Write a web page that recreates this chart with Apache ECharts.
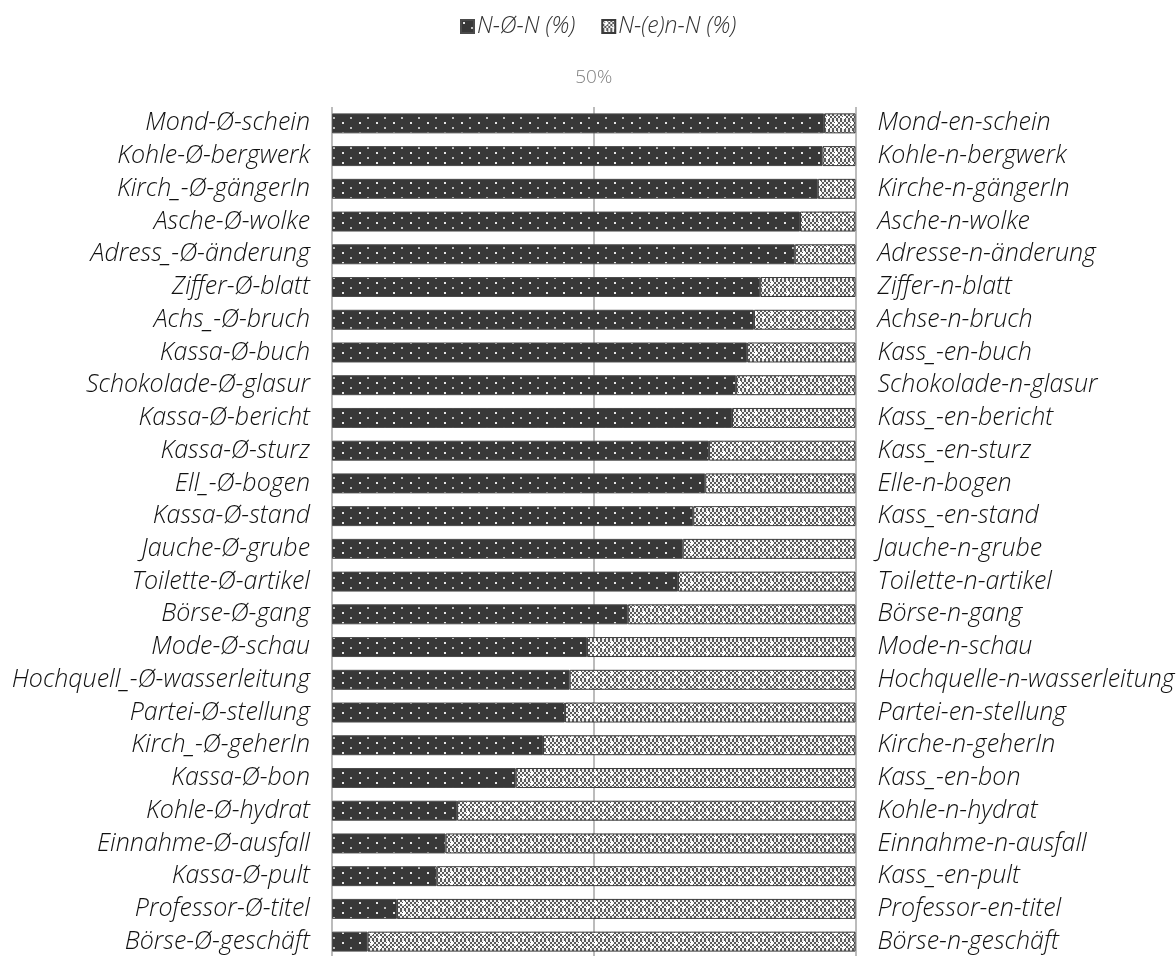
<!DOCTYPE html>
<html>
<head>
<meta charset="utf-8">
<script src="https://cdn.jsdelivr.net/npm/echarts@6/dist/echarts.min.js"></script>
<style>
  html, body { margin: 0; padding: 0; background: #ffffff; }
  #chart { width: 1176px; height: 956px; }
</style>
</head>
<body>
<div id="chart"></div>
<script>
// Compounds with a zero linking element (left) and their -(e)n- variants (right)
const zeroForms = [
  'Mond-Ø-schein', 'Kohle-Ø-bergwerk', 'Kirch_-Ø-gängerIn', 'Asche-Ø-wolke',
  'Adress_-Ø-änderung', 'Ziffer-Ø-blatt', 'Achs_-Ø-bruch', 'Kassa-Ø-buch',
  'Schokolade-Ø-glasur', 'Kassa-Ø-bericht', 'Kassa-Ø-sturz', 'Ell_-Ø-bogen',
  'Kassa-Ø-stand', 'Jauche-Ø-grube', 'Toilette-Ø-artikel', 'Börse-Ø-gang',
  'Mode-Ø-schau', 'Hochquell_-Ø-wasserleitung', 'Partei-Ø-stellung',
  'Kirch_-Ø-geherIn', 'Kassa-Ø-bon', 'Kohle-Ø-hydrat', 'Einnahme-Ø-ausfall',
  'Kassa-Ø-pult', 'Professor-Ø-titel', 'Börse-Ø-geschäft'
];
const enForms = [
  'Mond-en-schein', 'Kohle-n-bergwerk', 'Kirche-n-gängerIn', 'Asche-n-wolke',
  'Adresse-n-änderung', 'Ziffer-n-blatt', 'Achse-n-bruch', 'Kass_-en-buch',
  'Schokolade-n-glasur', 'Kass_-en-bericht', 'Kass_-en-sturz', 'Elle-n-bogen',
  'Kass_-en-stand', 'Jauche-n-grube', 'Toilette-n-artikel', 'Börse-n-gang',
  'Mode-n-schau', 'Hochquelle-n-wasserleitung', 'Partei-en-stellung',
  'Kirche-n-geherIn', 'Kass_-en-bon', 'Kohle-n-hydrat', 'Einnahme-n-ausfall',
  'Kass_-en-pult', 'Professor-en-titel', 'Börse-n-geschäft'
];

// Share of each variant in percent
const zeroShare = [
  94.0, 93.7, 92.8, 89.4, 88.4, 81.8, 80.6, 79.3, 77.2, 76.4, 72.0, 71.3, 69.0,
  67.0, 66.1, 56.5, 48.7, 45.4, 44.5, 40.3, 35.1, 23.9, 21.7, 20.0, 12.4, 6.8
];
const enShare = [
  6.0, 6.3, 7.2, 10.6, 11.6, 18.2, 19.4, 20.7, 22.8, 23.6, 28.0, 28.7, 31.0,
  33.0, 33.9, 43.5, 51.3, 54.6, 55.5, 59.7, 64.9, 76.1, 78.3, 80.0, 87.6, 93.2
];

const seriesNames = ['N-Ø-N (%)', 'N-(e)n-N (%)'];
const axisTicks = [0, 50, 100];

// Dark fill sprinkled with staggered white dots
function dotTile() {
  const c = document.createElement('canvas');
  c.width = 17; c.height = 10;
  const g = c.getContext('2d');
  g.fillStyle = '#383838';
  g.fillRect(0, 0, 17, 10);
  g.fillStyle = '#e6e6e6';
  g.fillRect(2, 2, 2, 2);
  g.fillStyle = '#bdbdbd';
  g.fillRect(10, 7, 2, 2);
  return c;
}

// Fine grey/white checkerboard with small white crosses
function checkTile() {
  const c = document.createElement('canvas');
  c.width = 16; c.height = 10;
  const g = c.getContext('2d');
  for (let y = 0; y < 10; y += 2) {
    for (let x = 0; x < 16; x += 2) {
      g.fillStyle = ((x + y) / 2) % 2 === 0 ? '#5a5a5a' : '#f2f2f2';
      g.fillRect(x, y, 2, 2);
    }
  }
  g.fillStyle = '#ffffff';
  g.fillRect(3, 2, 2, 2); g.fillRect(2, 3, 4, 1); g.fillRect(3, 1, 2, 4);
  g.fillRect(11, 7, 2, 2); g.fillRect(10, 7, 4, 1); g.fillRect(11, 6, 2, 3);
  return c;
}

const dotPattern = { image: dotTile(), repeat: 'repeat' };
const checkPattern = { image: checkTile(), repeat: 'repeat' };

const labelFont = {
  fontFamily: 'Open Sans',
  fontStyle: 'italic',
  fontWeight: 300,
  fontSize: 25,
  color: '#111111'
};

const chart = echarts.init(document.getElementById('chart'), null, { renderer: 'canvas' });

chart.setOption({
  backgroundColor: '#ffffff',
  animation: false,
  legend: {
    top: 10,
    left: 455,
    itemWidth: 13,
    itemHeight: 13,
    itemGap: 26,
    icon: 'rect',
    textStyle: {
      fontFamily: 'Open Sans',
      fontStyle: 'italic',
      fontWeight: 300,
      fontSize: 23,
      color: '#333333',
      padding: [0, 0, 0, -2]
    },
    data: seriesNames
  },
  grid: {
    left: 332,
    right: 320.5,
    top: 107,
    height: 851,
    containLabel: false,
    outerBoundsMode: 'none'
  },
  xAxis: {
    type: 'value',
    position: 'top',
    min: axisTicks[0],
    max: axisTicks[axisTicks.length - 1],
    interval: axisTicks[1] - axisTicks[0],
    axisLine: { show: false },
    axisTick: { show: false },
    splitLine: { show: true, lineStyle: { color: '#a6a6a6', width: 1.5 } },
    axisLabel: {
      margin: 20,
      fontFamily: 'Open Sans',
      fontWeight: 300,
      fontSize: 19,
      color: '#7f7f7f',
      formatter: v => (v === 50 ? v + '%' : '')
    }
  },
  yAxis: [
    {
      type: 'category',
      inverse: true,
      position: 'left',
      data: zeroForms,
      axisLine: { show: false },
      axisTick: { show: false },
      axisLabel: Object.assign({ margin: 22 }, labelFont)
    },
    {
      type: 'category',
      inverse: true,
      position: 'right',
      data: enForms,
      axisLine: { show: false },
      axisTick: { show: false },
      axisLabel: Object.assign({ margin: 22 }, labelFont)
    }
  ],
  series: [
    {
      name: seriesNames[0],
      type: 'bar',
      stack: 'share',
      yAxisIndex: 0,
      barCategoryGap: '39%',
      data: zeroShare,
      itemStyle: { color: dotPattern, borderColor: '#4a4a4a', borderWidth: 1 }
    },
    {
      name: seriesNames[1],
      type: 'bar',
      stack: 'share',
      yAxisIndex: 0,
      barCategoryGap: '39%',
      data: enShare,
      itemStyle: { color: checkPattern, borderColor: '#3a3a3a', borderWidth: 1 }
    }
  ]
});
</script>
</body>
</html>
